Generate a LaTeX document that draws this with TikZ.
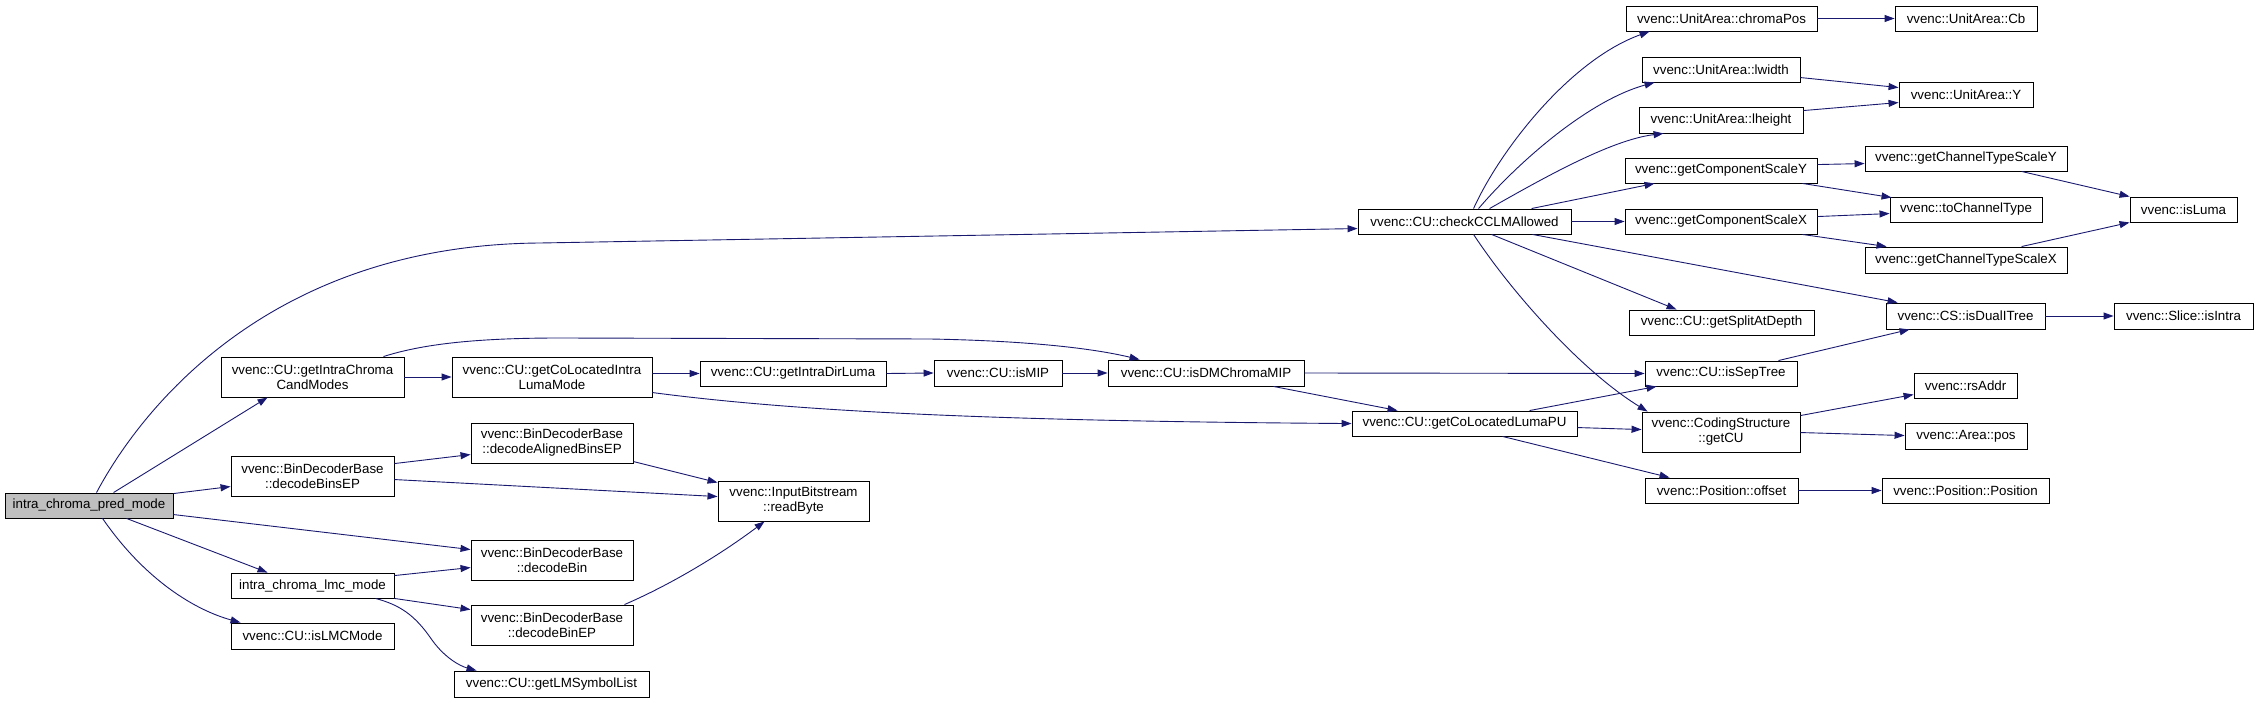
\documentclass[tikz,border=0pt]{standalone}
\usepackage{fontspec}
\setmainfont{Liberation Sans}
\usetikzlibrary{arrows.meta,calc}
\definecolor{edgecol}{HTML}{191970}
\definecolor{rootfill}{HTML}{BFBFBF}
\begin{document}
\begin{tikzpicture}[x=1pt,y=-1pt,
  box/.style={draw=black, line width=0.9pt, fill=white, inner sep=0pt, align=center,
    font=\fontsize{13.33}{15}\selectfont},
  edge/.style={draw=edgecol, line width=0.9pt, -{Triangle[length=10pt,width=7pt]}}]
\useasboundingbox (0,0) rectangle (2259,703);
% nodes
\node[box, fill=rootfill, minimum width=168pt, minimum height=25pt] (root) at (89,505.5) {intra\_chroma\_pred\_mode};
\node[box, minimum width=183pt, minimum height=40pt] (cand) at (312.5,377) {vvenc::CU::getIntraChroma\\CandModes};
\node[box, minimum width=200pt, minimum height=40pt] (coloc) at (552,377) {vvenc::CU::getCoLocatedIntra\\LumaMode};
\node[box, minimum width=163pt, minimum height=40pt] (binsep) at (312.5,476) {vvenc::BinDecoderBase\\::decodeBinsEP};
\node[box, minimum width=162pt, minimum height=40pt] (aligned) at (552,443) {vvenc::BinDecoderBase\\::decodeAlignedBinsEP};
\node[box, minimum width=162pt, minimum height=40pt] (dbin) at (552,560) {vvenc::BinDecoderBase\\::decodeBin};
\node[box, minimum width=163pt, minimum height=25pt] (lmc) at (312.5,585.5) {intra\_chroma\_lmc\_mode};
\node[box, minimum width=162pt, minimum height=40pt] (binep) at (552,625) {vvenc::BinDecoderBase\\::decodeBinEP};
\node[box, minimum width=163pt, minimum height=26pt] (islmc) at (312.5,636) {vvenc::CU::isLMCMode};
\node[box, minimum width=195pt, minimum height=26pt] (lmsym) at (551.5,684) {vvenc::CU::getLMSymbolList};
\node[box, minimum width=186pt, minimum height=25pt] (dirluma) at (793,373.5) {vvenc::CU::getIntraDirLuma};
\node[box, minimum width=151pt, minimum height=40pt] (readbyte) at (793.5,501) {vvenc::InputBitstream\\::readByte};
\node[box, minimum width=128pt, minimum height=26pt] (ismip) at (998,373) {vvenc::CU::isMIP};
\node[box, minimum width=196pt, minimum height=26pt] (isdm) at (1206,373) {vvenc::CU::isDMChromaMIP};
\node[box, minimum width=213pt, minimum height=25pt] (cclm) at (1464.5,221.5) {vvenc::CU::checkCCLMAllowed};
\node[box, minimum width=225pt, minimum height=25pt] (colpu) at (1464.5,423.5) {vvenc::CU::getCoLocatedLumaPU};
\node[box, minimum width=191pt, minimum height=25pt] (chromapos) at (1721.5,18.5) {vvenc::UnitArea::chromaPos};
\node[box, minimum width=158pt, minimum height=25pt] (lwidth) at (1721,69.5) {vvenc::UnitArea::lwidth};
\node[box, minimum width=164pt, minimum height=26pt] (lheight) at (1721,120) {vvenc::UnitArea::lheight};
\node[box, minimum width=192pt, minimum height=25pt] (compy) at (1721,170.5) {vvenc::getComponentScaleY};
\node[box, minimum width=192pt, minimum height=25pt] (compx) at (1721,221.5) {vvenc::getComponentScaleX};
\node[box, minimum width=185pt, minimum height=25pt] (split) at (1721.5,322.5) {vvenc::CU::getSplitAtDepth};
\node[box, minimum width=152pt, minimum height=25pt] (septree) at (1721,373.5) {vvenc::CU::isSepTree};
\node[box, minimum width=158pt, minimum height=40pt] (getcu) at (1721,432) {vvenc::CodingStructure\\::getCU};
\node[box, minimum width=153pt, minimum height=25pt] (offset) at (1721.5,490.5) {vvenc::Position::offset};
\node[box, minimum width=142pt, minimum height=25pt] (cb) at (1966,18.5) {vvenc::UnitArea::Cb};
\node[box, minimum width=134pt, minimum height=25pt] (uay) at (1966,94.5) {vvenc::UnitArea::Y};
\node[box, minimum width=202pt, minimum height=25pt] (chty) at (1966,158.5) {vvenc::getChannelTypeScaleY};
\node[box, minimum width=152pt, minimum height=25pt] (tochan) at (1966,209.5) {vvenc::toChannelType};
\node[box, minimum width=202pt, minimum height=26pt] (chtx) at (1966,260) {vvenc::getChannelTypeScaleX};
\node[box, minimum width=159pt, minimum height=26pt] (dual) at (1965.5,316) {vvenc::CS::isDualITree};
\node[box, minimum width=103pt, minimum height=25pt] (rsaddr) at (1965.5,385.5) {vvenc::rsAddr};
\node[box, minimum width=122pt, minimum height=26pt] (areapos) at (1966,436) {vvenc::Area::pos};
\node[box, minimum width=167pt, minimum height=25pt] (pospos) at (1965.5,490.5) {vvenc::Position::Position};
\node[box, minimum width=107pt, minimum height=25pt] (isluma) at (2183.5,209.5) {vvenc::isLuma};
\node[box, minimum width=139pt, minimum height=26pt] (isintra) at (2183.5,316) {vvenc::Slice::isIntra};
% edges from root
\draw[edge] ($(root.north west)+(92,0)$) .. controls (135,420) and (260,245) .. (540,243) -- ($(cclm.north west)+(0,20)$);
\draw[edge] ($(root.north west)+(109,0)$) -- ($(cand.south west)+(47,0)$);
\draw[edge] ($(root.north east)+(0,1)$) -- ($(binsep.north west)+(0,31)$);
\draw[edge] ($(root.north east)+(0,22)$) -- ($(dbin.north west)+(0,10)$);
\draw[edge] ($(root.south west)+(122,0)$) -- ($(lmc.north west)+(37,0)$);
\draw[edge] ($(root.south west)+(98,0)$) .. controls (145,580) and (195,610) .. ($(islmc.north west)+(10,0)$);
% cand
\draw[edge] (cand.east) -- (coloc.west);
\draw[edge] ($(cand.north east)+(-21,0)$) .. controls (420,345) and (470,338) .. (560,338) -- (930,339) .. controls (1040,341) and (1100,350) .. ($(isdm.north west)+(32,0)$);
% coloc
\draw[edge] ($(coloc.north east)+(0,17)$) -- (dirluma.west);
\draw[edge] ($(coloc.north east)+(0,36)$) .. controls (800,412) and (1000,421) .. ($(colpu.north west)+(0,13)$);
\draw[edge] (dirluma.east) -- (ismip.west);
\draw[edge] (ismip.east) -- (isdm.west);
\draw[edge] (isdm.east) -- (septree.west);
\draw[edge] ($(isdm.south east)+(-31,0)$) -- ($(colpu.north west)+(46,0)$);
% bins
\draw[edge] ($(binsep.north east)+(0,8)$) -- ($(aligned.north west)+(0,32)$);
\draw[edge] ($(binsep.north east)+(0,24)$) -- ($(readbyte.north west)+(0,16)$);
\draw[edge] ($(aligned.north east)+(0,39)$) -- ($(readbyte.north west)+(0,2)$);
\draw[edge] ($(lmc.north east)+(0,3)$) -- ($(dbin.north west)+(0,28)$);
\draw[edge] (lmc.south east) -- ($(binep.north west)+(0,5)$);
\draw[edge] ($(lmc.south west)+(145,0)$) .. controls (400,605) and (415,615) .. (432,640) .. controls (445,658) and (460,666) .. ($(lmsym.north west)+(23,0)$);
\draw[edge] ($(binep.north east)+(-9,0)$) .. controls (670,585) and (720,555) .. ($(readbyte.south west)+(47,0)$);
% cclm
\draw[edge] ($(cclm.north west)+(116,0)$) .. controls (1500,150) and (1570,60) .. ($(chromapos.south west)+(24,0)$);
\draw[edge] ($(cclm.north west)+(121,0)$) .. controls (1520,160) and (1590,100) .. ($(lwidth.south west)+(13,0)$);
\draw[edge] ($(cclm.north west)+(132,0)$) .. controls (1540,180) and (1610,140) .. ($(lheight.south west)+(25,0)$);
\draw[edge] ($(cclm.north west)+(174,0)$) -- ($(compy.south west)+(30,0)$);
\draw[edge] (cclm.east) -- (compx.west);
\draw[edge] ($(cclm.south east)+(-39,0)$) -- ($(dual.north west)+(12,0)$);
\draw[edge] ($(cclm.south west)+(134,0)$) -- ($(split.north west)+(48,0)$);
\draw[edge] ($(cclm.south west)+(116,0)$) .. controls (1510,290) and (1580,370) .. ($(getcu.north west)+(6,0)$);
% scales
\draw[edge] ($(compy.north east)+(0,7)$) -- ($(chty.north west)+(0,18)$);
\draw[edge] ($(compy.south east)+(-15,0)$) -- ($(tochan.north west)+(2,1)$);
\draw[edge] ($(compx.north east)+(0,8)$) -- ($(tochan.north west)+(0,17)$);
\draw[edge] ($(compx.south east)+(-15,0)$) -- ($(chtx.north west)+(22,0)$);
\draw[edge] (chromapos.east) -- (cb.west);
\draw[edge] ($(lwidth.north east)+(0,21)$) -- ($(uay.north west)+(0,6)$);
\draw[edge] ($(lheight.north east)+(0,4)$) -- ($(uay.north west)+(0,21)$);
\draw[edge] ($(chty.south west)+(157,0)$) -- (isluma.north west);
\draw[edge] ($(chtx.north west)+(157,0)$) -- (isluma.south west);
\draw[edge] (dual.east) -- (isintra.west);
\draw[edge] ($(septree.north east)+(-19,0)$) -- ($(dual.south west)+(24,0)$);
% colpu
\draw[edge] ($(colpu.north west)+(178,0)$) -- ($(septree.south west)+(12,0)$);
\draw[edge] ($(colpu.north east)+(0,17)$) -- ($(getcu.north west)+(0,18)$);
\draw[edge] ($(colpu.south west)+(151,0)$) -- ($(offset.north west)+(25,0)$);
\draw[edge] ($(getcu.north east)+(0,4)$) -- ($(rsaddr.north west)+(0,22)$);
\draw[edge] ($(getcu.north east)+(0,21)$) -- ($(areapos.north west)+(0,13)$);
\draw[edge] (offset.east) -- (pospos.west);
\end{tikzpicture}
\end{document}
